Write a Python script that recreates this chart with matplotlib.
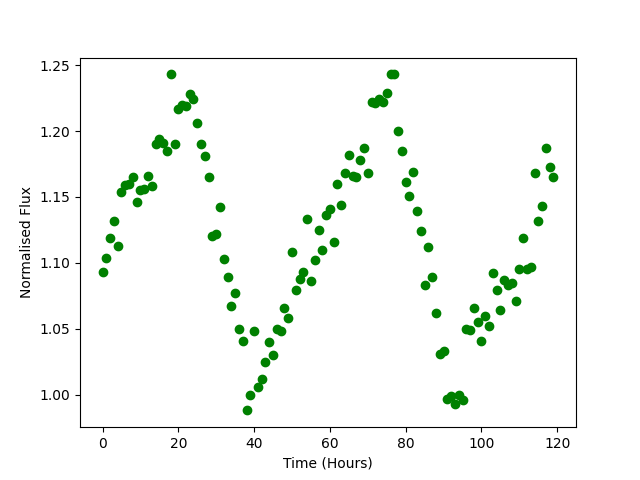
import matplotlib
matplotlib.use('Agg')
import matplotlib.pyplot as plt
import numpy as np

# Hourly samples
hours = np.arange(120)
flux = [
    1.093, 1.104, 1.119, 1.132, 1.113, 1.154, 1.159, 1.160, 1.165, 1.146,
    1.155, 1.156, 1.166, 1.158, 1.190, 1.194, 1.191, 1.185, 1.243, 1.190,
    1.217, 1.220, 1.219, 1.228, 1.224, 1.206, 1.190, 1.181, 1.165, 1.120,
    1.122, 1.142, 1.103, 1.089, 1.067, 1.077, 1.050, 1.041, 0.988, 1.000,
    1.048, 1.006, 1.012, 1.025, 1.040, 1.030, 1.050, 1.048, 1.066, 1.058,
    1.108, 1.079, 1.088, 1.093, 1.133, 1.086, 1.102, 1.125, 1.110, 1.136,
    1.141, 1.116, 1.160, 1.144, 1.168, 1.182, 1.166, 1.165, 1.178, 1.187,
    1.168, 1.222, 1.221, 1.224, 1.222, 1.229, 1.243, 1.243, 1.200, 1.185,
    1.161, 1.151, 1.169, 1.139, 1.124, 1.083, 1.112, 1.089, 1.062, 1.031,
    1.033, 0.997, 0.999, 0.993, 1.000, 0.996, 1.050, 1.049, 1.066, 1.055,
    1.041, 1.060, 1.052, 1.092, 1.079, 1.064, 1.087, 1.083, 1.085, 1.071,
    1.095, 1.119, 1.095, 1.097, 1.168, 1.132, 1.143, 1.187, 1.173, 1.165,
]

fig, ax = plt.subplots(figsize=(6.4, 4.8), dpi=100)
ax.plot(hours, flux, 'go')
ax.set_xlabel('Time (Hours)')
ax.set_ylabel('Normalised Flux')

plt.savefig('out.png', dpi=100)
plt.close()
